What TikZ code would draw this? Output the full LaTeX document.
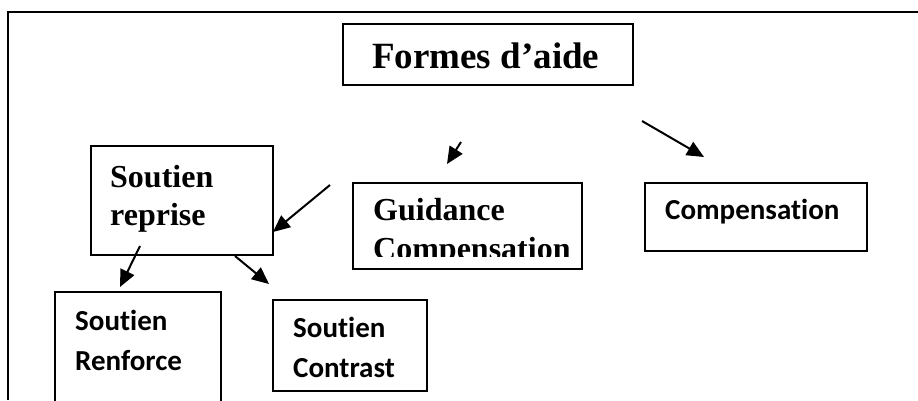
\documentclass[tikz,border=0pt]{standalone}
\usepackage{fontspec}
\setmainfont{Liberation Serif}
\newfontfamily\calfont[Ligatures=NoCommon]{Carlito}
\usetikzlibrary{arrows.meta}
\begin{document}
\begin{tikzpicture}[x=1pt,y=-1pt,
  box/.style={draw, line width=1.6pt, inner sep=0pt, anchor=north west},
  arr/.style={line width=2pt, -{Triangle[length=17pt,width=15pt]}},
  tnr/.style={anchor=base west, inner sep=0pt, font=\bfseries\fontsize{32}{38}\selectfont},
  tnrbig/.style={anchor=base west, inner sep=0pt, font=\bfseries\fontsize{37}{42}\selectfont},
  cal/.style={anchor=base west, inner sep=0pt, font=\calfont\bfseries\fontsize{29}{35}\selectfont}]
\useasboundingbox (0,0) rectangle (918,400);
\clip (0,0) rectangle (918,400);
\draw[line width=2.2pt] (918,12) -- (8,12) -- (8,400);

% boxes
\node[box, minimum width=290pt, minimum height=61pt] (formes) at (342,23) {};
\node[box, minimum width=182pt, minimum height=109pt] (reprise) at (90,145) {};
\node[box, minimum width=229pt, minimum height=86pt] (guid) at (352,182) {};
\node[box, minimum width=222pt, minimum height=68pt] (comp) at (644,182) {};
\node[box, minimum width=166pt, minimum height=130pt] (renf) at (54,291) {};
\node[box, minimum width=154pt, minimum height=91pt] (contr) at (272,299) {};

% texts
\node[tnrbig] (tformes) at (372,68) {Formes d’aide};
\node[tnr] (trep1) at (110,187) {Soutien};
\node[tnr] (trep2) at (110,225) {reprise};
\node[tnr] (tguid1) at (373,220) {Guidance};
\begin{scope}
  \clip (352,230) rectangle (581,256);
  \node[tnr] (tguid2) at (373,259) {Compensation};
\end{scope}
\node[cal] (tcomp) at (665,219) {Compensation};
\node[cal] (tren1) at (75,330) {Soutien};
\node[cal] (tren2) at (75,370) {Renforce};
\node[cal] (tcon1) at (293,337) {Soutien};
\node[cal] (tcon2) at (293,377) {Contrast};

% arrow end points
\coordinate (a1s) at (461,142); \coordinate (a1e) at (447,164);
\coordinate (a2s) at (642,121); \coordinate (a2e) at (704,157);
\coordinate (a3s) at (330,185); \coordinate (a3e) at (273,232);
\coordinate (a4s) at (140,246); \coordinate (a4e) at (120,287);
\coordinate (a5s) at (235,256); \coordinate (a5e) at (269,284);

\draw[arr] (a1s) -- (a1e);
\draw[arr] (a2s) -- (a2e);
\draw[arr] (a3s) -- (a3e);
\draw[arr] (a4s) -- (a4e);
\draw[arr] (a5s) -- (a5e);
\end{tikzpicture}
\end{document}
